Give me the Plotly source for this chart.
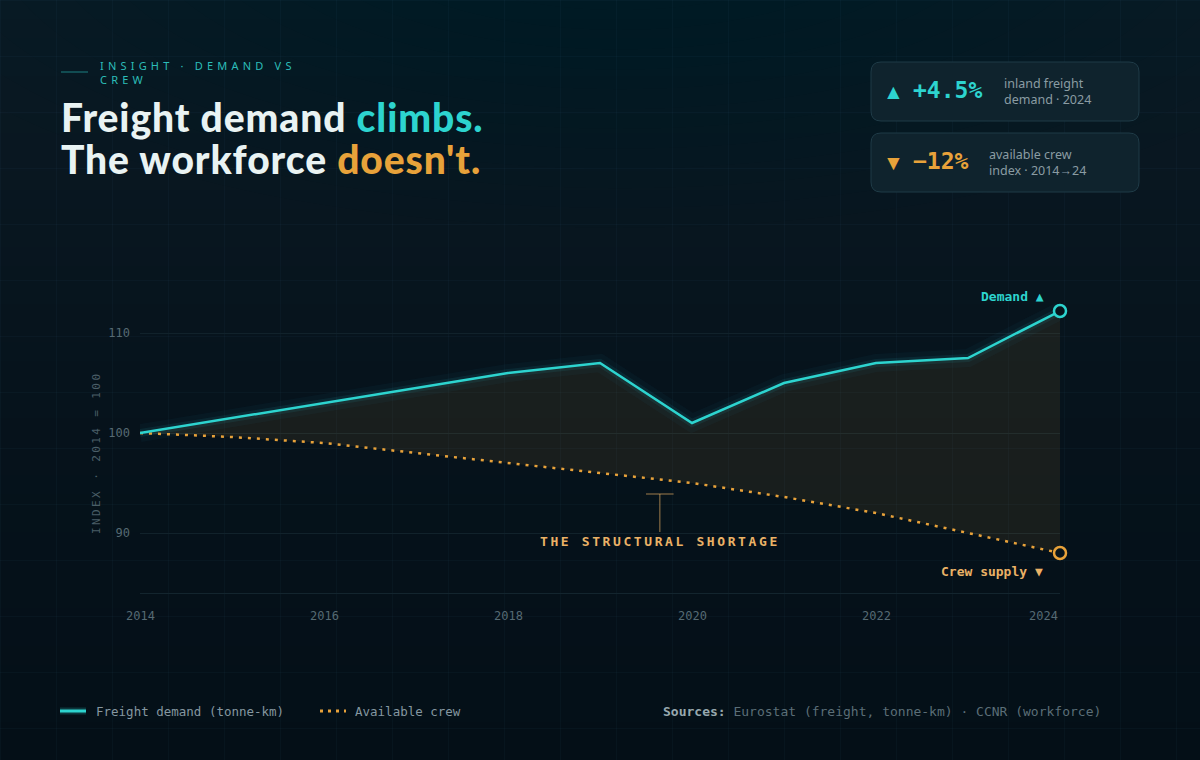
import plotly.graph_objects as go

# ---------------- data ----------------
years = [2014, 2015, 2016, 2017, 2018, 2019, 2020, 2021, 2022, 2023, 2024]
freight_demand = [100, 101.5, 103, 104.5, 106, 107, 101, 105, 107, 107.5, 112.2]
available_crew = [100, 99.6, 99, 98, 97, 96, 95, 93.6, 92, 90, 88]
x_tick_years = [2014, 2016, 2018, 2020, 2022, 2024]
y_tick_values = [90, 100, 110]
series_names = ["Freight demand (tonne-km)", "Available crew"]
kpi_values = ["+4.5%", "−12%"]
kpi_arrows = ["▲", "▼"]
kpi_labels = ["inland freight<br>demand · 2024", "available crew<br>index · 2014→24"]

# ---------------- style ----------------
CYAN = "#2dd4cf"
ORANGE = "#e8a23a"
ORANGE_TXT = "#ebb266"
MONO = "DejaVu Sans Mono"
SANS = "Noto Sans"
TITLE_FONT = "Lato"

W, H = 1200, 760
ML, MR, MT, MB = 140, 140, 283, 167
PW, PH = W - ML - MR, H - MT - MB


def px(x):
    return (x - ML) / PW


def py(y):
    return (H - MB - y) / PH


shapes = []

# background vertical gradient
def lerp(a, b, t):
    return tuple(round(a[i] + (b[i] - a[i]) * t) for i in range(3))

top_c, mid_c, bot_c = (11, 26, 36), (6, 19, 28), (4, 15, 23)
step = 19
for y in range(0, H, step):
    t = (y + step / 2) / H
    c = lerp(top_c, mid_c, t * 2) if t < 0.5 else lerp(mid_c, bot_c, (t - 0.5) * 2)
    shapes.append(dict(type="rect", xref="paper", yref="paper", x0=px(0), x1=px(W),
                       y0=py(y + step + 1), y1=py(y), fillcolor="rgb(%d,%d,%d)" % c,
                       line=dict(width=0), layer="below"))
# soft top glow (many faint layers)
for k in range(14):
    r = 560 - k * 36
    shapes.append(dict(type="circle", xref="paper", yref="paper",
                       x0=px(620 - r * 1.4), x1=px(620 + r * 1.4), y0=py(-80 + r * 0.55), y1=py(-80 - r * 0.55),
                       fillcolor="rgba(30,75,95,0.012)", line=dict(width=0), layer="below"))
# page grid
for gx in range(0, W + 1, 56):
    shapes.append(dict(type="line", xref="paper", yref="paper", x0=px(gx + 0.5), x1=px(gx + 0.5),
                       y0=py(0), y1=py(H), line=dict(color="rgba(70,140,170,0.05)", width=1), layer="below"))
for gy in range(0, H + 1, 56):
    shapes.append(dict(type="line", xref="paper", yref="paper", x0=px(0), x1=px(W),
                       y0=py(gy + 0.5), y1=py(gy + 0.5), line=dict(color="rgba(70,140,170,0.05)", width=1), layer="below"))


def rrect(x0, y0, x1, y1, r):
    p = [
        f"M{px(x0 + r)},{py(y0)}", f"L{px(x1 - r)},{py(y0)}", f"Q{px(x1)},{py(y0)} {px(x1)},{py(y0 + r)}",
        f"L{px(x1)},{py(y1 - r)}", f"Q{px(x1)},{py(y1)} {px(x1 - r)},{py(y1)}",
        f"L{px(x0 + r)},{py(y1)}", f"Q{px(x0)},{py(y1)} {px(x0)},{py(y1 - r)}",
        f"L{px(x0)},{py(y0 + r)}", f"Q{px(x0)},{py(y0)} {px(x0 + r)},{py(y0)}", "Z"]
    return " ".join(p)

# KPI cards
card_boxes = [(871, 62, 1139, 121), (871, 133, 1139, 192)]
for (x0, y0, x1, y1) in card_boxes:
    shapes.append(dict(type="path", xref="paper", yref="paper", path=rrect(x0, y0, x1, y1, 10),
                       fillcolor="#0f232d", line=dict(color="#1f3b47", width=1), layer="above"))

# header accent line
shapes.append(dict(type="line", xref="paper", yref="paper", x0=px(61), x1=px(88), y0=py(72), y1=py(72),
                   line=dict(color="rgba(45,212,207,0.55)", width=1)))

# shortage T-bracket
ANN_X = 2019.65
shapes.append(dict(type="line", xref="x", yref="y", x0=ANN_X, x1=ANN_X, y0=93.9, y1=90.1,
                   line=dict(color="rgba(235,178,102,0.45)", width=1.5)))
shapes.append(dict(type="line", xref="x", yref="y", x0=ANN_X - 0.15, x1=ANN_X + 0.15, y0=93.9, y1=93.9,
                   line=dict(color="rgba(235,178,102,0.45)", width=1.5)))

# legend samples
shapes.append(dict(type="line", xref="paper", yref="paper", x0=px(60), x1=px(86), y0=py(711), y1=py(711),
                   line=dict(color="rgba(45,212,207,0.2)", width=7)))
shapes.append(dict(type="line", xref="paper", yref="paper", x0=px(60), x1=px(86), y0=py(711), y1=py(711),
                   line=dict(color=CYAN, width=3)))
shapes.append(dict(type="line", xref="paper", yref="paper", x0=px(320), x1=px(346), y0=py(711), y1=py(711),
                   line=dict(color=ORANGE, width=3, dash="3px,5px")))

fig = go.Figure()

# fill between series
fig.add_trace(go.Scatter(x=years, y=available_crew, mode="lines", line=dict(width=0),
                         showlegend=False, hoverinfo="skip"))
fig.add_trace(go.Scatter(x=years, y=freight_demand, mode="lines", line=dict(width=0),
                         fill="tonexty", fillcolor="rgba(232,162,58,0.085)", showlegend=False, hoverinfo="skip"))
# glow
fig.add_trace(go.Scatter(x=years, y=freight_demand, mode="lines",
                         line=dict(color="rgba(45,170,220,0.045)", width=18), showlegend=False, hoverinfo="skip"))
fig.add_trace(go.Scatter(x=years, y=freight_demand, mode="lines",
                         line=dict(color="rgba(45,200,215,0.09)", width=8), showlegend=False, hoverinfo="skip"))
# series lines
fig.add_trace(go.Scatter(x=years, y=available_crew, mode="lines", name=series_names[1],
                         line=dict(color=ORANGE, width=2.5, dash="3px,6px"), showlegend=False))
fig.add_trace(go.Scatter(x=years, y=freight_demand, mode="lines", name=series_names[0],
                         line=dict(color=CYAN, width=2.5), showlegend=False))
# end markers
fig.add_trace(go.Scatter(x=[years[-1]], y=[freight_demand[-1]], mode="markers", cliponaxis=False,
                         marker=dict(size=12, color="#07141c", line=dict(color=CYAN, width=2.5)),
                         showlegend=False, hoverinfo="skip"))
fig.add_trace(go.Scatter(x=[years[-1]], y=[available_crew[-1]], mode="markers", cliponaxis=False,
                         marker=dict(size=12, color="#07141c", line=dict(color=ORANGE, width=2.5)),
                         showlegend=False, hoverinfo="skip"))

ann = []
# header label
ann.append(dict(xref="paper", yref="paper", x=px(98), y=py(72.5), xanchor="left", yanchor="middle", align="left",
                text="<span style='letter-spacing:4.2px'>INSIGHT · DEMAND VS<br>CREW</span>",
                font=dict(family=SANS, size=11, color="#2cbdb9"), showarrow=False))
# title
ann.append(dict(xref="paper", yref="paper", x=px(59), y=py(117), xanchor="left", yanchor="middle",
                text=f"<span style='letter-spacing:0.9px'>Freight demand <span style='color:{CYAN}'>climbs.</span></span>",
                font=dict(family=TITLE_FONT, size=39, color="#e9f3f3", weight=900), showarrow=False))
ann.append(dict(xref="paper", yref="paper", x=px(59), y=py(159), xanchor="left", yanchor="middle",
                text=f"<span style='letter-spacing:0.9px'>The workforce <span style='color:{ORANGE}'>doesn't.</span></span>",
                font=dict(family=TITLE_FONT, size=39, color="#e9f3f3", weight=900), showarrow=False))
# KPI cards content
kpi_colors = [CYAN, ORANGE]
kpi_cy = [91, 162]
kpi_label_x = [1002, 987]
for i in range(2):
    ann.append(dict(xref="paper", yref="paper", x=px(893.5), y=py(kpi_cy[i]), xanchor="center", yanchor="middle",
                    text=kpi_arrows[i], font=dict(family=SANS, size=21, color=kpi_colors[i]), showarrow=False))
    ann.append(dict(xref="paper", yref="paper", x=px(911), y=py(kpi_cy[i] - 1), xanchor="left", yanchor="middle",
                    text=f"<b>{kpi_values[i]}</b>", font=dict(family=MONO, size=23, color=kpi_colors[i]),
                    showarrow=False))
    ann.append(dict(xref="paper", yref="paper", x=px(kpi_label_x[i]), y=py(kpi_cy[i]), xanchor="left",
                    yanchor="middle", align="left", text=kpi_labels[i],
                    font=dict(family=SANS, size=12.5, color="#8a9ca3"), showarrow=False))

# x tick labels
for i, yr in enumerate(x_tick_years):
    last = i == len(x_tick_years) - 1
    ann.append(dict(xref="x", yref="paper", x=yr, y=py(616), xanchor="right" if last else "center",
                    yanchor="middle", text=str(yr), font=dict(family=MONO, size=12, color="#566a73"),
                    showarrow=False))
# y axis title
ann.append(dict(xref="paper", yref="paper", x=px(96), y=py(453), xanchor="center", yanchor="middle",
                textangle=-90, text="<span style='letter-spacing:2.4px'>INDEX · 2014 = 100</span>",
                font=dict(family=MONO, size=11, color="#4a5e67"), showarrow=False))
# series end labels
ann.append(dict(xref="x", yref="y", x=years[-1], y=freight_demand[-1], xanchor="right", yanchor="middle",
                xshift=-14, yshift=15, text="<b>Demand ▲</b>", font=dict(family=MONO, size=13, color=CYAN),
                showarrow=False))
ann.append(dict(xref="x", yref="y", x=years[-1], y=available_crew[-1], xanchor="right", yanchor="middle",
                xshift=-15, yshift=-18, text="<b>Crew supply ▼</b>",
                font=dict(family=MONO, size=13, color=ORANGE_TXT), showarrow=False))
# shortage label
ann.append(dict(xref="x", yref="y", x=ANN_X, y=89.2, xanchor="center", yanchor="middle",
                text="<b><span style='letter-spacing:2.6px'>THE STRUCTURAL SHORTAGE</span></b>",
                font=dict(family=MONO, size=13, color=ORANGE_TXT), showarrow=False))
# legend texts
ann.append(dict(xref="paper", yref="paper", x=px(94), y=py(711), xanchor="left", yanchor="middle",
                text=series_names[0], font=dict(family=MONO, size=12.5, color="#8597a0"), showarrow=False))
ann.append(dict(xref="paper", yref="paper", x=px(353), y=py(711), xanchor="left", yanchor="middle",
                text=series_names[1], font=dict(family=MONO, size=12.5, color="#8597a0"), showarrow=False))
# sources
ann.append(dict(xref="paper", yref="paper", x=px(1103), y=py(711), xanchor="right", yanchor="middle",
                text="<span style='color:#97a8ae'><b>Sources:</b></span> Eurostat (freight, tonne-km) · CCNR (workforce)",
                font=dict(family=MONO, size=13, color="#5b6e77"), showarrow=False))

fig.update_layout(
    width=W, height=H,
    margin=dict(l=ML, r=MR, t=MT, b=MB),
    paper_bgcolor="#06121b",
    plot_bgcolor="rgba(0,0,0,0)",
    shapes=shapes,
    annotations=ann,
    showlegend=False,
    xaxis=dict(range=[2014, 2024], showgrid=False, zeroline=False, showticklabels=False, ticks="",
               showline=True, linecolor="#13252e", linewidth=1),
    yaxis=dict(range=[84, 115], tickvals=y_tick_values, ticks="", ticklabelstandoff=9,
               gridcolor="#11222b", gridwidth=1, zeroline=False, showline=False,
               tickfont=dict(family=MONO, size=12, color="#566a73")),
)

fig.write_html("out.html", include_plotlyjs=True, config={"displayModeBar": False})
